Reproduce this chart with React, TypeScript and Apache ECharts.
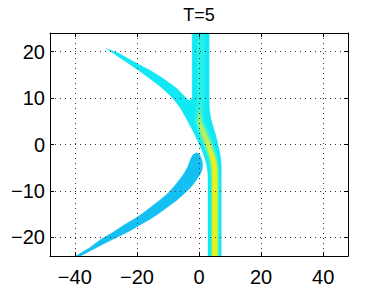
import React, { useEffect, useRef } from "react";
import * as echarts from "echarts";

// Outer (low-density) region: vertical band + curved arm, [x, y]
const mainOutline: number[][] = [
  [-2.2, 24], [3.3, 24], [3.3, 8.5], [3.5, 7], [3.9, 5.5], [4.5, 4], [5.2, 2.5],
  [5.8, 1], [6.3, -0.5], [6.8, -2], [7.1, -3.5], [7.2, -5], [7.2, -24],
  [2.9, -24], [2.9, -7.5], [2.8, -6.0], [2.5, -4.6], [1.9, -3.0], [1.0, -1.4],
  [-0.2, 0.4], [-1.6, 2.4], [-3.0, 4.2], [-4.6, 6.2], [-6.2, 8.0], [-8, 9.6],
  [-10, 11.0], [-12.5, 12.5], [-15.5, 14.0], [-18.5, 15.5], [-22, 17.1],
  [-26, 18.9], [-30, 20.7], [-26, 19.7], [-22.5, 18.4], [-19, 17.1],
  [-15.5, 15.9], [-12, 14.4], [-9, 13.0], [-7, 12.0], [-5.5, 11.0], [-4.5, 10.3],
  [-3.8, 9.8], [-3.2, 9.5], [-2.7, 9.6], [-2.2, 10.1],
];

// Lower-left separate lobe, [x, y]
const blobOutline: number[][] = [
  [-39.7, -24], [-35, -22.1], [-31.6, -20.4], [-28, -19.0], [-24.1, -17.3],
  [-20.5, -15.9], [-17.7, -14.6], [-15, -13.2], [-12.3, -11.8], [-10, -10.5],
  [-8, -9.0], [-6.2, -7.5], [-4.8, -6.2], [-3.8, -5.0], [-3.1, -3.8],
  [-2.5, -2.8], [-1.8, -2.1], [-0.8, -1.8], [0, -2.0], [0.5, -2.6], [1.0, -3.5],
  [1.2, -4.5], [1.0, -5.5], [0.5, -6.3], [-0.4, -7.2], [-1.6, -8.4],
  [-3.3, -9.7], [-5.3, -10.9], [-7.5, -12.2], [-10.2, -13.5], [-12.8, -14.8],
  [-15.5, -16.0], [-18.7, -17.2], [-22, -18.5], [-25.8, -19.8], [-29.5, -21.0],
  [-33.5, -22.4], [-38.1, -24],
];

// Ridge (density maximum) of the main band
const ridgeY = [24, 12, 9, 7, 5, 3, 1, -1, -3, -5, -7, -9, -24];
const ridgeX = [0.6, 0.6, 0.5, 0.2, 0.1, 1.2, 2.4, 3.5, 4.5, 5.0, 5.1, 5.1, 5.1];

// Half widths of density levels around the ridge
const level1HalfWidth = [1.3, 1.3, 1.3, 1.4, 1.7, 1.9, 1.9, 1.8, 1.6, 1.55, 1.5, 1.5, 1.5];
const level2HalfWidth = [0, 0, 0, 0.5, 1.0, 1.3, 1.35, 1.3, 1.2, 1.15, 1.15, 1.15, 1.15];
const level3HalfWidth = [0, 0, 0, 0, 0.5, 0.8, 0.95, 0.95, 0.95, 0.95, 0.95, 0.95, 0.95];
const level4HalfWidth = [0, 0, 0, 0, 0, 0.2, 0.45, 0.65, 0.75, 0.78, 0.78, 0.78, 0.78];
const level5HalfWidth = [0, 0, 0, 0, 0, 0, 0, 0, 0.4, 0.55, 0.6, 0.6, 0.6];

function levelPolygon(hw: number[]): number[][] {
  const left: number[][] = [];
  const right: number[][] = [];
  for (let i = 0; i < ridgeY.length; i++) {
    const keep = hw[i] > 0 || (i > 0 && hw[i - 1] > 0) || (i < hw.length - 1 && hw[i + 1] > 0);
    if (!keep) continue;
    left.push([ridgeX[i] - hw[i], ridgeY[i]]);
    right.push([ridgeX[i] + hw[i], ridgeY[i]]);
  }
  return left.concat(right.reverse());
}

function polySeries(points: number[][], color: string, z: number) {
  return {
    type: "custom",
    coordinateSystem: "cartesian2d",
    xAxisIndex: 0,
    yAxisIndex: 0,
    silent: true,
    z,
    data: points,
    renderItem: (params: any, api: any) => {
      if (params.dataIndex !== 0) return null;
      const pts = points.map((p) => api.coord(p));
      return {
        type: "polygon",
        shape: { points: pts },
        style: { fill: color, stroke: color, lineWidth: 0.3 },
      };
    },
  };
}

const fmt = (v: number) => (v < 0 ? "\u2212" + Math.abs(v) : String(v));
const FONT = "Liberation Sans";

export default function App() {
  const ref = useRef<HTMLDivElement>(null);
  useEffect(() => {
    if (!ref.current) return;
    const chart = echarts.init(ref.current, undefined, { renderer: "svg" });
    const axisLine = { show: true, onZero: false, lineStyle: { color: "#000", width: 1 } };
    const tick = { show: true, inside: true, length: 4, lineStyle: { color: "#000" } };
    const split = { show: true, lineStyle: { color: "#333", width: 1, type: [1, 4] as any } };
    chart.setOption({
      animation: false,
      backgroundColor: "#fff",
      grid: { left: 50, right: 36, top: 33, bottom: 32, containLabel: false },
      graphic: [
        {
          type: "text",
          x: 199,
          y: 15,
          style: {
            text: "T=5",
            fontSize: 18,
            fontFamily: FONT,
            fill: "#000",
            textAlign: "center",
            textVerticalAlign: "middle",
          },
        },
      ],
      xAxis: [
        {
          type: "value", min: -48, max: 48, position: "bottom", z: 10,
          axisLine, axisTick: tick, splitLine: split,
          axisLabel: {
            showMinLabel: false, showMaxLabel: false, fontSize: 20, fontFamily: FONT,
            color: "#000", margin: 11, formatter: fmt,
          },
        },
        {
          type: "value", min: -48, max: 48, position: "top", z: 10,
          axisLine, axisTick: tick, splitLine: { show: false }, axisLabel: { show: false },
        },
      ],
      yAxis: [
        {
          type: "value", min: -24, max: 24, position: "left", z: 10,
          axisLine, axisTick: tick, splitLine: split,
          axisLabel: {
            showMinLabel: false, showMaxLabel: false, fontSize: 20, fontFamily: FONT,
            color: "#000", margin: 5, formatter: fmt,
          },
        },
        {
          type: "value", min: -24, max: 24, position: "right", z: 10,
          axisLine, axisTick: tick, splitLine: { show: false }, axisLabel: { show: false },
        },
      ],
      series: [
        polySeries(blobOutline, "#14c0f2", 2),
        polySeries(mainOutline, "#10e8f4", 2),
        polySeries(levelPolygon(level1HalfWidth), "#26efe8", 3),
        polySeries(levelPolygon(level2HalfWidth), "#58f2b8", 4),
        polySeries(levelPolygon(level3HalfWidth), "#98f07a", 5),
        polySeries(levelPolygon(level4HalfWidth), "#cdf046", 6),
        polySeries(levelPolygon(level5HalfWidth), "#eef212", 7),
      ],
    });
    return () => chart.dispose();
  }, []);
  return <div ref={ref} style={{ width: 384, height: 288, position: "absolute", left: 0, top: 0 }} />;
}
